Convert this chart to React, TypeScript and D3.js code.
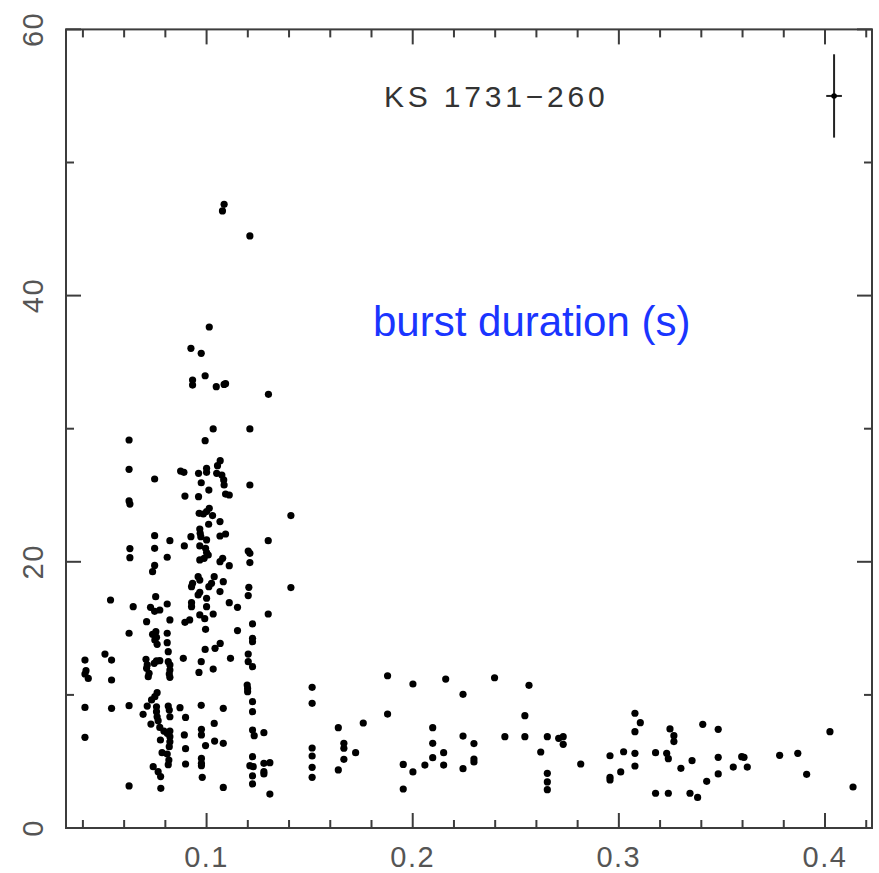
import React from "react";
import * as d3 from "d3";

// Burst measurements: [x value, burst duration in seconds]
const bursts: [number, number][] = [
  [0.1085, 46.86], [0.1077, 46.36], [0.121, 44.48],
  [0.1013, 37.64], [0.0924, 36.04], [0.0974, 35.66], [0.0993, 33.98], [0.0932, 33.66], [0.0932, 33.28],
  [0.1047, 33.16], [0.1085, 33.33], [0.1092, 33.38], [0.13, 32.58],
  [0.1032, 29.98], [0.121, 29.98], [0.0624, 29.15], [0.0993, 29.1], [0.1066, 27.6], [0.1053, 27.22],
  [0.1, 27.02], [0.1, 26.72], [0.0961, 26.65], [0.0874, 26.82], [0.089, 26.72], [0.1049, 26.65],
  [0.1074, 26.52], [0.1083, 26.15], [0.1085, 25.77], [0.0974, 25.94], [0.0624, 26.95], [0.0748, 26.22],
  [0.121, 25.77], [0.1011, 25.39], [0.1092, 25.09], [0.111, 25.02], [0.0895, 24.94], [0.0961, 24.89],
  [0.0624, 24.57], [0.0628, 24.34], [0.1013, 24.02], [0.1, 23.77], [0.0964, 23.64], [0.0984, 23.59],
  [0.1029, 23.47], [0.1409, 23.47], [0.1065, 23.02], [0.101, 22.82], [0.0967, 22.46], [0.0969, 22.14],
  [0.0972, 21.89], [0.1092, 22.09], [0.1065, 21.94], [0.0748, 21.96], [0.0822, 21.59], [0.0924, 21.89],
  [0.1, 21.64], [0.1299, 21.59], [0.0892, 21.19], [0.0748, 21.01], [0.0628, 20.99], [0.0967, 21.19],
  [0.0995, 21.01], [0.1, 20.69], [0.1008, 20.51], [0.0988, 20.26], [0.0967, 20.14], [0.1202, 20.81],
  [0.121, 20.64], [0.0628, 20.31], [0.0809, 20.34], [0.1078, 20.26], [0.1065, 20.01], [0.111, 19.71],
  [0.121, 19.94], [0.0748, 19.73], [0.0738, 19.26], [0.0959, 18.88], [0.0967, 18.63], [0.1037, 18.88],
  [0.1024, 18.38], [0.1081, 18.51], [0.0932, 18.38], [0.0927, 18.13], [0.1011, 18.13], [0.1205, 18.08],
  [0.1409, 18.06], [0.0967, 17.71], [0.0959, 17.51], [0.1065, 17.76], [0.1, 17.26], [0.0753, 17.38],
  [0.1202, 17.46],
  [0.0534, 17.13], [0.0644, 16.63], [0.0728, 16.58], [0.0748, 16.28], [0.0773, 16.38], [0.0809, 16.83],
  [0.0927, 16.93], [0.0927, 16.63], [0.1, 16.63], [0.1032, 16.08], [0.0967, 16.01], [0.0991, 15.73],
  [0.0995, 14.93], [0.111, 16.93], [0.115, 16.58], [0.1299, 16.08], [0.0624, 14.63], [0.0709, 15.5],
  [0.0822, 15.63], [0.0895, 15.45], [0.0918, 15.63],
  [0.0754, 14.75], [0.0738, 14.55], [0.0757, 14.33], [0.0749, 14.12], [0.076, 13.8],
  [0.0809, 14.63], [0.0809, 13.92], [0.0814, 13.25],
  [0.115, 14.83], [0.1223, 15.33], [0.1223, 14.25], [0.1223, 14.0], [0.0993, 13.42], [0.1041, 13.5],
  [0.1066, 13.87], [0.1116, 12.75], [0.0887, 12.75], [0.0974, 12.5], [0.1032, 11.94], [0.0963, 11.69],
  [0.1202, 13.07], [0.1202, 12.5], [0.1223, 12.12],
  [0.041, 12.62], [0.0415, 11.82], [0.041, 11.57], [0.0426, 11.24],
  [0.0507, 13.07], [0.0539, 12.62], [0.0539, 11.12],
  [0.0706, 12.67], [0.0712, 12.25], [0.0709, 12.0], [0.0721, 11.62], [0.0717, 11.37], [0.0746, 12.37],
  [0.0757, 12.55], [0.0773, 12.57],
  [0.0814, 12.5], [0.0822, 12.25], [0.0822, 11.87], [0.0819, 11.57], [0.0822, 11.32],
  [0.1197, 10.74], [0.1199, 10.49], [0.1199, 10.24],
  [0.041, 9.06], [0.0539, 8.99], [0.0624, 9.19],
  [0.076, 10.17], [0.0749, 9.87], [0.0733, 9.62], [0.0712, 9.16], [0.0692, 8.54],
  [0.0757, 9.11], [0.0757, 8.74], [0.076, 8.36], [0.0765, 8.06],
  [0.0814, 9.16], [0.0819, 8.86], [0.0822, 8.36], [0.0871, 9.04], [0.0898, 8.31], [0.0974, 9.22],
  [0.1081, 8.99], [0.1223, 9.49], [0.1223, 8.74],
  [0.1037, 7.86], [0.0975, 7.41], [0.0975, 6.99], [0.0995, 6.19], [0.1039, 6.53], [0.1081, 6.36],
  [0.0892, 6.99], [0.0898, 5.96], [0.0898, 4.81], [0.041, 6.81],
  [0.073, 7.81], [0.0773, 7.56], [0.0793, 7.28], [0.0809, 7.11], [0.0822, 7.28], [0.0822, 6.86],
  [0.0776, 6.61], [0.0822, 6.48], [0.0819, 6.11], [0.0784, 5.66], [0.0809, 5.56], [0.0817, 5.11],
  [0.0814, 4.76],
  [0.1223, 7.36], [0.1231, 6.94], [0.1278, 7.16],
  [0.0975, 5.23], [0.0975, 4.86], [0.0975, 4.68],
  [0.1223, 5.36], [0.121, 4.68], [0.1226, 4.61], [0.1223, 3.91], [0.1223, 3.31],
  [0.1278, 4.86], [0.1307, 4.91], [0.1278, 4.23], [0.1278, 4.06],
  [0.0741, 4.61], [0.0765, 4.23], [0.0777, 3.86], [0.0979, 3.81], [0.0624, 3.16], [0.0778, 2.98],
  [0.1081, 3.05], [0.1307, 2.55],
  [0.1512, 10.57], [0.1512, 9.37], [0.1512, 6.01], [0.1512, 5.41], [0.1512, 4.56], [0.1512, 3.81],
  [0.1639, 7.54], [0.1639, 4.36], [0.1666, 6.36], [0.1666, 5.99], [0.1666, 5.16], [0.1723, 5.66],
  [0.176, 7.89], [0.1878, 11.44], [0.1878, 8.56], [0.1954, 4.78], [0.1954, 2.93], [0.2001, 10.82],
  [0.2001, 4.21], [0.2059, 4.73], [0.2097, 7.54], [0.2097, 6.36], [0.2097, 5.28], [0.215, 5.66],
  [0.215, 4.73], [0.216, 11.19], [0.2244, 10.04], [0.2244, 6.91], [0.2244, 4.46], [0.2297, 6.34],
  [0.2297, 5.18], [0.2297, 4.96], [0.2397, 11.29], [0.2447, 6.86], [0.2544, 8.44], [0.2544, 6.86],
  [0.2564, 10.72], [0.2621, 5.71], [0.2653, 6.86], [0.2653, 4.11], [0.2653, 3.46], [0.2653, 2.88],
  [0.2708, 6.74], [0.273, 6.86], [0.273, 6.29], [0.2815, 4.81],
  [0.2957, 5.43], [0.2957, 3.81], [0.2957, 3.61], [0.3009, 4.21], [0.3023, 5.73], [0.3078, 8.62],
  [0.3104, 7.91], [0.3078, 7.24], [0.3078, 5.61], [0.3078, 4.66], [0.3178, 5.66], [0.3178, 2.61],
  [0.3232, 5.61], [0.324, 5.21], [0.324, 2.61], [0.3248, 7.44], [0.3267, 6.94], [0.3267, 6.49],
  [0.3301, 4.48], [0.3345, 2.61], [0.3355, 5.06], [0.3382, 2.3], [0.3407, 7.79], [0.3426, 3.51],
  [0.3482, 7.41], [0.3482, 5.31], [0.3482, 4.06], [0.3555, 4.58], [0.3596, 5.36], [0.3607, 5.31],
  [0.3623, 4.58], [0.378, 5.46], [0.3868, 5.61], [0.3911, 4.03], [0.4024, 7.24], [0.4136, 3.08],
];

// Axis ticks
const xMajorTicks = [0.1, 0.2, 0.3, 0.4];
const xMinorTicks = [0.04, 0.06, 0.08, 0.12, 0.14, 0.16, 0.18, 0.22, 0.24, 0.26, 0.28, 0.32, 0.34, 0.36, 0.38, 0.42];
const yMajorTicks = [0, 20, 40, 60];
const yMinorTicks = [10, 30, 50];

// Typical error bar shown in the corner: [x, y, x error, y error]
const typicalError = [0.4044, 55, 0.0038, 3.13];

const title = "KS 1731\u2212260";
const caption = "burst duration (s)";

const W = 879;
const H = 873;
const left = 66;
const right = 872;
const top = 29.4;
const bottom = 828;

export default function App() {
  const x = d3.scaleLinear().domain([0.0318, 0.4228]).range([left, right]);
  const y = d3.scaleLinear().domain([0, 60]).range([bottom, top]);

  const axisColor = "#3c3c3c";
  const labelColor = "#555";
  const majorLen = 15;
  const minorLen = 8;
  const font = "'Liberation Sans', Arial, sans-serif";

  const [ex, ey, exErr, eyErr] = typicalError;

  return (
    <svg
      width={W}
      height={H}
      style={{ position: "absolute", left: 0, top: 0, background: "#fff" }}
    >
      <rect x={0} y={0} width={W} height={H} fill="#fff" />
      {/* frame */}
      <rect
        x={left}
        y={top}
        width={right - left}
        height={bottom - top}
        fill="none"
        stroke={axisColor}
        strokeWidth={2}
      />
      {/* ticks on all four sides, pointing inward */}
      <g stroke={axisColor} strokeWidth={2}>
        {xMajorTicks.map((t) => (
          <g key={"xM" + t}>
            <line x1={x(t)} x2={x(t)} y1={bottom} y2={bottom - majorLen} />
            <line x1={x(t)} x2={x(t)} y1={top} y2={top + majorLen} />
          </g>
        ))}
        {xMinorTicks.map((t) => (
          <g key={"xm" + t}>
            <line x1={x(t)} x2={x(t)} y1={bottom} y2={bottom - minorLen} />
            <line x1={x(t)} x2={x(t)} y1={top} y2={top + minorLen} />
          </g>
        ))}
        {yMajorTicks.map((t) => (
          <g key={"yM" + t}>
            <line x1={left} x2={left + majorLen} y1={y(t)} y2={y(t)} />
            <line x1={right} x2={right - majorLen} y1={y(t)} y2={y(t)} />
          </g>
        ))}
        {yMinorTicks.map((t) => (
          <g key={"ym" + t}>
            <line x1={left} x2={left + minorLen} y1={y(t)} y2={y(t)} />
            <line x1={right} x2={right - minorLen} y1={y(t)} y2={y(t)} />
          </g>
        ))}
      </g>
      {/* tick labels */}
      <g fill={labelColor} fontFamily={font} fontSize={29} letterSpacing={1.5}>
        {xMajorTicks.map((t) => (
          <text key={"xl" + t} x={x(t)} y={867} textAnchor="middle">
            {t.toFixed(1)}
          </text>
        ))}
        {yMajorTicks.map((t) => (
          <text
            key={"yl" + t}
            transform={`translate(33, ${y(t)}) rotate(-90)`}
            textAnchor="middle"
            dominantBaseline="central"
          >
            {t}
          </text>
        ))}
      </g>
      {/* data points */}
      <g fill="#000">
        {bursts.map(([bx, by], i) => (
          <circle key={i} cx={x(bx)} cy={y(by)} r={3.6} />
        ))}
      </g>
      {/* typical error bar */}
      <g stroke="#222" strokeWidth={2}>
        <line x1={x(ex)} x2={x(ex)} y1={y(ey - eyErr)} y2={y(ey + eyErr)} />
        <line x1={x(ex - exErr)} x2={x(ex + exErr)} y1={y(ey)} y2={y(ey)} />
      </g>
      <circle cx={x(ex)} cy={y(ey)} r={2.8} fill="#000" />
      {/* labels */}
      <text
        x={384}
        y={107}
        fill="#333"
        fontFamily={font}
        fontSize={30}
        letterSpacing={3.8}
      >
        {title}
      </text>
      <text x={373} y={336} fill="#1a35ff" fontFamily={font} fontSize={42}>
        {caption}
      </text>
    </svg>
  );
}
